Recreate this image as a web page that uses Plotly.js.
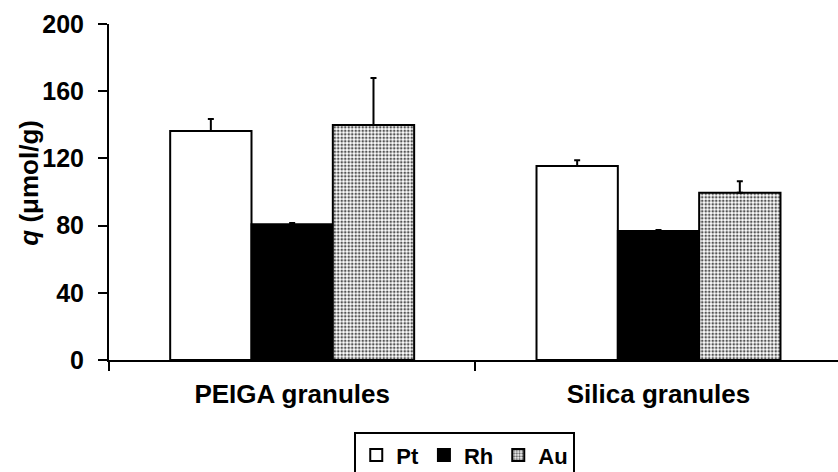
<!DOCTYPE html>
<html>
<head>
<meta charset="utf-8">
<script src="https://cdn.plot.ly/plotly-3.0.1.min.js"></script>
<style>
  html, body { margin: 0; padding: 0; background: #fff; }
  #chart { width: 838px; height: 472px; }
</style>
</head>
<body>
<div id="chart"></div>
<script>
// Adsorbed amount q (µmol/g) of each metal on the two granule types
const categories = ['PEIGA granules', 'Silica granules'];
const metals = ['Pt', 'Rh', 'Au'];
const ptValues = [136.3, 115.5];
const ptErrors = [7.2, 3.4];
const rhValues = [80.8, 76.8];
const rhErrors = [0.8, 0.6];
const auValues = [139.9, 99.6];
const auErrors = [28.0, 6.8];
const yTicks = [0, 40, 80, 120, 160, 200];
const yTitle = '<i>q</i> (μmol/g)';

const FONT = 'Liberation Sans, Arial, Helvetica, sans-serif';
const outline = { color: '#000', width: 2 };

function errs(arr) {
  return {
    type: 'data', array: arr, arrayminus: arr.map(() => 0), symmetric: false,
    color: '#000', thickness: 2, width: 3
  };
}

const traces = [
  {
    type: 'bar', name: metals[0], x: categories, y: ptValues,
    marker: { color: '#fff', line: outline },
    error_y: errs(ptErrors)
  },
  {
    type: 'bar', name: metals[1], x: categories, y: rhValues,
    marker: { color: '#000', line: outline },
    error_y: errs(rhErrors)
  },
  {
    type: 'bar', name: metals[2], x: categories, y: auValues,
    marker: {
      color: '#fff', line: outline,
      pattern: { shape: '.', fgcolor: '#555', bgcolor: '#fff', size: 3.5, solidity: 0.45 }
    },
    error_y: errs(auErrors)
  }
];

const layout = {
  width: 838, height: 472,
  margin: { l: 109, r: 0, t: 24, b: 112, autoexpand: false },
  paper_bgcolor: '#fff', plot_bgcolor: '#fff',
  font: { family: FONT, size: 25, color: '#000', weight: 700 },
  barmode: 'group', bargap: 0.334, bargroupgap: 0,
  showlegend: true,
  legend: {
    orientation: 'h', x: 0.488, xanchor: 'center', y: -0.215, yanchor: 'top',
    bordercolor: '#000', borderwidth: 2, bgcolor: '#fff',
    font: { family: FONT, size: 22, weight: 700 },
    itemwidth: 30, traceorder: 'normal'
  },
  xaxis: {
    type: 'category', range: [-0.5, 1.49],
    showline: true, linecolor: '#000', linewidth: 2,
    ticks: 'outside', tickson: 'boundaries', ticklen: 9, tickwidth: 2, tickcolor: '#000',
    ticklabelstandoff: 10,
    showgrid: false, zeroline: false,
    tickfont: { family: FONT, size: 26, weight: 700 }
  },
  yaxis: {
    range: [0, 200], tickvals: yTicks, ticktext: yTicks.map(String),
    showline: true, linecolor: '#000', linewidth: 2,
    ticks: 'outside', ticklen: 9, tickwidth: 2, tickcolor: '#000',
    ticklabelstandoff: 9,
    showgrid: false, zeroline: false,
    tickfont: { family: FONT, size: 25, weight: 700 }
  },
  annotations: [{
    text: yTitle, xref: 'paper', yref: 'paper', x: -0.11, y: 0.527,
    xanchor: 'center', yanchor: 'middle', textangle: -90, showarrow: false,
    font: { family: FONT, size: 26, weight: 700 }
  }]
};

Plotly.newPlot('chart', traces, layout, { displayModeBar: false, staticPlot: true });
</script>
</body>
</html>
